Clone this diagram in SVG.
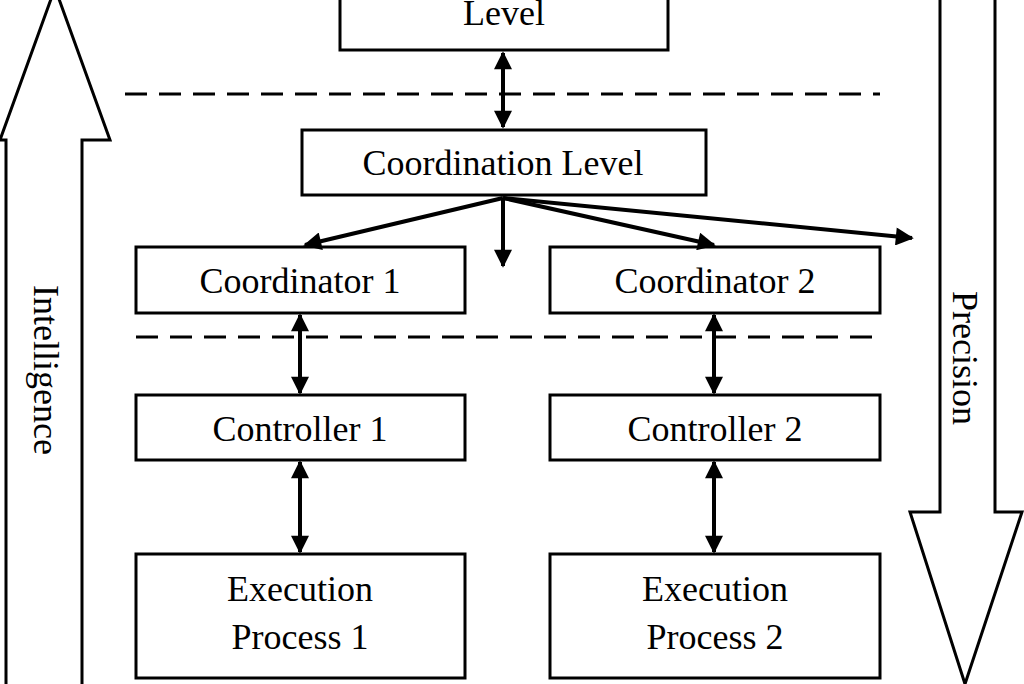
<svg xmlns="http://www.w3.org/2000/svg" width="1024" height="684" viewBox="0 0 1024 684">
<defs>
<marker id="a" viewBox="0 0 10 10" refX="9" refY="5" markerWidth="22" markerHeight="18" orient="auto-start-reverse" markerUnits="userSpaceOnUse"><path d="M0,0 L10,5 L0,10 z" fill="#000"/></marker>
</defs>
<style>
.b{fill:#fff;stroke:#000;stroke-width:3}
.t{font-family:'Liberation Serif','Times New Roman','DejaVu Serif',serif;font-size:36px;text-anchor:middle;fill:#000}
.c{stroke:#000;stroke-width:4;fill:none}
.d{stroke:#000;stroke-width:3;stroke-dasharray:22,12;fill:none}
</style>
<rect width="1024" height="684" fill="#fff"/>
<g id="bigarrows">
<path class="b" d="M6,690 L6,140 L0,140 L55,-12 L110,140 L82,140 L82,690" />
<text class="t" font-family="Liberation Serif, serif" transform="translate(34,370) rotate(90)">Intelligence</text>
<path class="b" d="M940,-5 L940,512 L910,512 L965,684 L1022,512 L995,512 L995,-5" />
<text class="t" font-family="Liberation Serif, serif" transform="translate(953,358) rotate(90)">Precision</text>
</g>
<g id="dashes">
<line class="d" x1="125" y1="94" x2="880" y2="94"/>
<line class="d" x1="136" y1="337" x2="875" y2="337"/>
</g>
<g id="top"><rect class="b" x="340" y="-10" width="328" height="60"/><text class="t" font-family="Liberation Serif, serif" x="504" y="25">Level</text></g>
<g id="coord"><rect class="b" x="302" y="130" width="404" height="65"/><text class="t" font-family="Liberation Serif, serif" x="503" y="175">Coordination Level</text></g>
<g id="co1"><rect class="b" x="136" y="247" width="329" height="66"/><text class="t" font-family="Liberation Serif, serif" x="300" y="293">Coordinator 1</text></g>
<g id="co2"><rect class="b" x="550" y="247" width="330" height="66"/><text class="t" font-family="Liberation Serif, serif" x="715" y="293">Coordinator 2</text></g>
<g id="ct1"><rect class="b" x="136" y="395" width="329" height="65"/><text class="t" font-family="Liberation Serif, serif" x="300" y="441">Controller 1</text></g>
<g id="ct2"><rect class="b" x="550" y="395" width="330" height="65"/><text class="t" font-family="Liberation Serif, serif" x="715" y="441">Controller 2</text></g>
<g id="ex1"><rect class="b" x="136" y="554" width="329" height="124"/><text class="t" font-family="Liberation Serif, serif" x="300" y="601">Execution</text><text class="t" font-family="Liberation Serif, serif" x="300" y="649">Process 1</text></g>
<g id="ex2"><rect class="b" x="550" y="554" width="330" height="124"/><text class="t" font-family="Liberation Serif, serif" x="715" y="601">Execution</text><text class="t" font-family="Liberation Serif, serif" x="715" y="649">Process 2</text></g>
<g id="connectors">
<line class="c" x1="503" y1="53" x2="503" y2="127" marker-start="url(#a)" marker-end="url(#a)"/>
<line class="c" x1="503" y1="198" x2="305" y2="245" marker-end="url(#a)"/>
<line class="c" x1="503" y1="198" x2="503" y2="266" marker-end="url(#a)"/>
<line class="c" x1="503" y1="198" x2="714" y2="245" marker-end="url(#a)"/>
<line class="c" x1="503" y1="198" x2="912" y2="238" marker-end="url(#a)"/>
<line class="c" x1="300" y1="315" x2="300" y2="393" marker-start="url(#a)" marker-end="url(#a)"/>
<line class="c" x1="714" y1="315" x2="714" y2="393" marker-start="url(#a)" marker-end="url(#a)"/>
<line class="c" x1="300" y1="462" x2="300" y2="552" marker-start="url(#a)" marker-end="url(#a)"/>
<line class="c" x1="714" y1="462" x2="714" y2="552" marker-start="url(#a)" marker-end="url(#a)"/>
</g>
</svg>
